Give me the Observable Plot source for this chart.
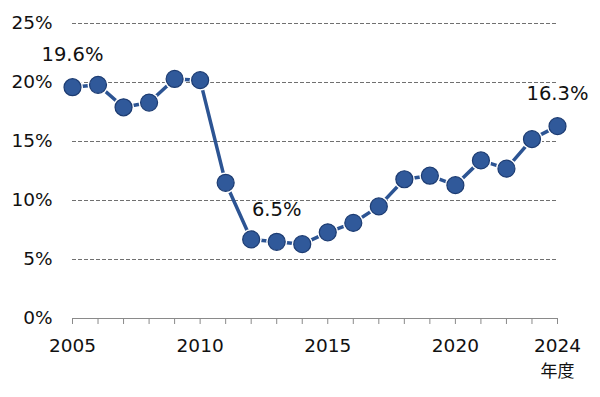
<!DOCTYPE html>
<html>
<head>
<meta charset="utf-8">
<script src="https://cdn.jsdelivr.net/npm/d3@7"></script>
<script src="https://cdn.jsdelivr.net/npm/@observablehq/plot@0.6"></script>
<style>
  html, body { margin: 0; padding: 0; background: #fff; }
  #chart { width: 600px; height: 397px; }
</style>
</head>
<body>
<div id="chart"></div>
<script>
const years = [2005, 2006, 2007, 2008, 2009, 2010, 2011, 2012, 2013, 2014, 2015, 2016, 2017, 2018, 2019, 2020, 2021, 2022, 2023, 2024];
const values = [19.6, 19.8, 17.9, 18.3, 20.3, 20.2, 11.5, 6.7, 6.5, 6.3, 7.3, 8.1, 9.5, 11.8, 12.1, 11.3, 13.4, 12.7, 15.2, 16.3];
const labeledYears = [2005, 2010, 2015, 2020, 2024];
const yTicks = [0, 5, 10, 15, 20, 25];
const gridTicks = [5, 10, 15, 20, 25];
const annotations = [
  {year: 2005, value: 19.6, label: "19.6%"},
  {year: 2013, value: 6.5, label: "6.5%"},
  {year: 2024, value: 16.3, label: "16.3%"}
];
const unitLabel = "年度";

const data = years.map((y, i) => ({year: y, value: values[i]}));

const lineColor = "#2c5493";
const dotFill = "#30599a";
const dotStroke = "#1d3c72";

const chart = Plot.plot({
  width: 600,
  height: 397,
  marginLeft: 72,
  marginRight: 43,
  marginTop: 23,
  marginBottom: 79,
  style: {fontFamily: "'DejaVu Sans', Verdana, sans-serif", fontSize: "18.5px", color: "#111", background: "#fff"},
  x: {domain: [2005, 2024]},
  y: {domain: [0, 25]},
  marks: [
    Plot.ruleY(gridTicks, {stroke: "#707070", strokeWidth: 1, strokeDasharray: "4,2"}),
    Plot.ruleY([0], {stroke: "#8a8a8a", strokeWidth: 1}),
    Plot.axisY({ticks: yTicks, tickSize: 0, tickPadding: 20, tickFormat: d => d + "%", label: null, fill: "#111"}),
    Plot.axisX({ticks: years, tickSize: 6, tickPadding: 14, stroke: "#8a8a8a", fill: "#111",
      tickFormat: d => labeledYears.includes(d) ? String(d) : "", label: null}),
    Plot.line(data, {x: "year", y: "value", stroke: lineColor, strokeWidth: 3.5}),
    Plot.dot(data, {x: "year", y: "value", r: 10.5, fill: "white", stroke: "none"}),
    Plot.dot(data, {x: "year", y: "value", r: 8.5, fill: dotFill, stroke: dotStroke, strokeWidth: 1.2}),
    Plot.text(annotations, {x: "year", y: "value", text: "label", dy: -32, fill: "#111", fontSize: 19.5}),
    Plot.text([unitLabel], {x: () => 2024, y: () => 0, dy: 53, fill: "#111", fontSize: 17, fontFamily: "'Noto Sans CJK JP', sans-serif"})
  ]
});
document.getElementById("chart").appendChild(chart);
</script>
</body>
</html>
